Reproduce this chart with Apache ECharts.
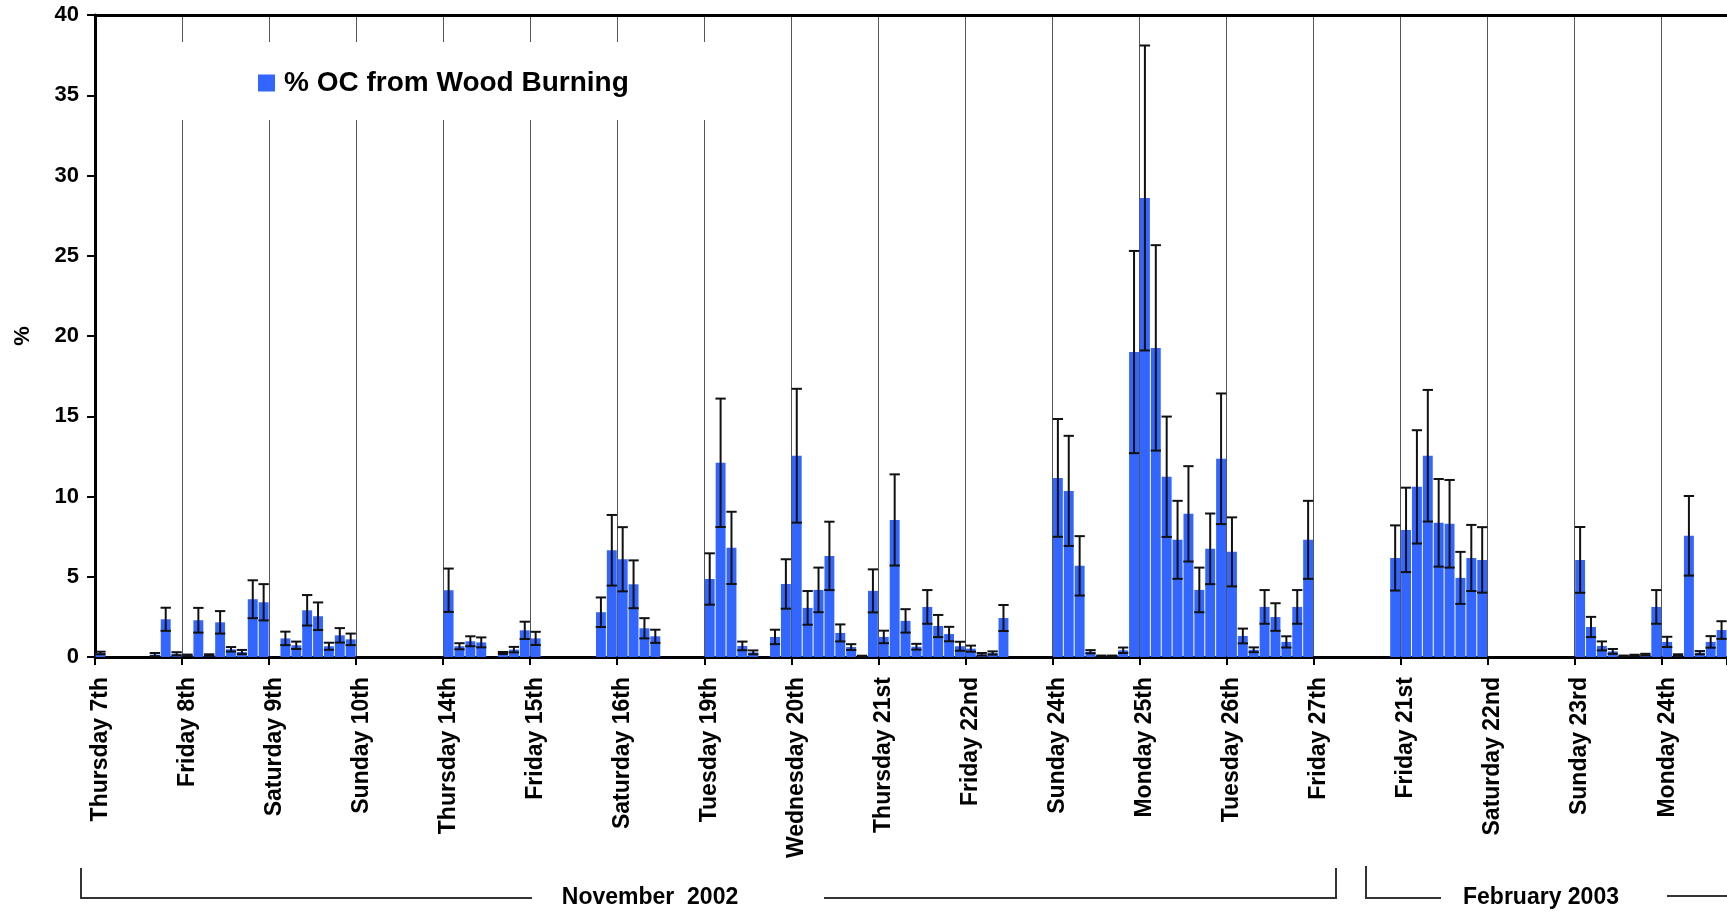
<!DOCTYPE html>
<html>
<head>
<meta charset="utf-8">
<script src="https://cdn.jsdelivr.net/npm/echarts@6/dist/echarts.min.js"></script>
<style>
  html, body { margin: 0; padding: 0; background: #fff; }
  #chart { width: 1727px; height: 913px; }
</style>
</head>
<body>
<div id="chart"></div>
<script>
// Day labels (one per day, 8 three-hour samples per day)
const dayLabels = ['Thursday 7th','Friday 8th','Saturday 9th','Sunday 10th','Thursday 14th','Friday 15th',
  'Saturday 16th','Tuesday 19th','Wednesday 20th','Thursday 21st','Friday 22nd','Sunday 24th',
  'Monday 25th','Tuesday 26th','Friday 27th','Friday 21st','Saturday 22nd','Sunday 23rd','Monday 24th'];
const slotsPerDay = 8;
const slotCount = 150;

// % OC from wood burning, one row per day (null = no sample)
const values = [
  0.25, null, null, null, null, 0.15, 2.35, 0.2,
  0.1, 2.29, 0.12, 2.16, 0.48, 0.31, 3.6, 3.41,
  null, 1.16, 0.73, 2.91, 2.54, 0.67, 1.35, 1.1,
  null, null, null, null, null, null, null, null,
  4.16, 0.67, 0.98, 0.91, null, 0.25, 0.46, 1.66,
  1.16, null, null, null, null, null, 2.79, 6.65,
  6.09, 4.53, 1.79, 1.29, null, null, null, null,
  4.86, 12.1, 6.8, 0.69, 0.29, null, 1.25, 4.55,
  12.54, 3.06, 4.18, 6.3, 1.5, 0.62, 0.05, 4.12,
  1.25, 8.54, 2.25, 0.64, 3.12, 1.93, 1.43, 0.67,
  0.52, 0.17, 0.25, 2.43, null, null, null, null,
  11.16, 10.35, 5.68, 0.33, 0.06, 0.06, 0.42, 19.0,
  28.6, 19.26, 11.23, 7.3, 8.92, 4.18, 6.74, 12.35,
  6.55, 1.31, 0.45, 3.12, 2.49, 0.94, 3.12, 7.3,
  null, null, null, null, null, null, null, 6.17,
  7.92, 10.6, 12.54, 8.36, 8.3, 4.93, 6.17, 6.05,
  null, null, null, null, null, null, null, null,
  6.05, 1.87, 0.69, 0.35, 0.06, 0.1, 0.15, 3.12,
  0.94, 0.12, 7.55, 0.27, 0.94, 1.68
];
// error (+/-) for each sample
const errors = [
  0.08, null, null, null, null, 0.1, 0.72, 0.1,
  0.05, 0.77, 0.05, 0.7, 0.14, 0.13, 1.18, 1.13,
  null, 0.42, 0.23, 0.95, 0.86, 0.22, 0.45, 0.36,
  null, null, null, null, null, null, null, null,
  1.35, 0.19, 0.31, 0.31, null, 0.06, 0.17, 0.54,
  0.41, null, null, null, null, null, 0.92, 2.2,
  2.0, 1.49, 0.63, 0.41, null, null, null, null,
  1.6, 4.0, 2.25, 0.27, 0.12, null, 0.45, 1.54,
  4.17, 1.05, 1.39, 2.13, 0.53, 0.18, 0.03, 1.34,
  0.39, 2.84, 0.73, 0.18, 1.05, 0.69, 0.45, 0.28,
  0.19, 0.08, 0.1, 0.81, null, null, null, null,
  3.67, 3.43, 1.85, 0.1, 0.03, 0.03, 0.17, 6.3,
  9.5, 6.4, 3.75, 2.43, 2.97, 1.39, 2.2, 4.07,
  2.15, 0.46, 0.15, 1.05, 0.86, 0.35, 1.05, 2.43,
  null, null, null, null, null, null, null, 2.03,
  2.63, 3.53, 4.1, 2.73, 2.73, 1.62, 2.06, 2.04,
  null, null, null, null, null, null, null, null,
  2.05, 0.63, 0.28, 0.15, 0.03, 0.04, 0.05, 1.05,
  0.32, 0.05, 2.48, 0.1, 0.36, 0.55
];
const yTicks = { min: 0, max: 40, interval: 5 };
const seriesName = '% OC from Wood Burning';
const monthLabels = ['November  2002', 'February 2003'];

const categories = [];
for (let i = 0; i < slotCount; i++) {
  categories.push(dayLabels[Math.floor(i / slotsPerDay)] + '|' + (i % slotsPerDay));
}
const errData = [];
values.forEach((v, i) => {
  if (v != null && errors[i] != null) errData.push([i, v, errors[i]]);
});

const FONT = "'Liberation Sans', Arial, Helvetica, sans-serif";
const BLUE = '#3366FF';
const dayStart = (idx) => idx % slotsPerDay === 0;

const chart = echarts.init(document.getElementById('chart'), null, { renderer: 'canvas' });
chart.setOption({
  animation: false,
  backgroundColor: '#fff',
  grid: { left: 95, right: 0, top: 15, bottom: 256, containLabel: false },
  legend: {
    data: [{ name: seriesName, icon: 'rect' }],
    left: 170, top: 42,
    padding: [27, 88, 23, 88],
    backgroundColor: '#fff',
    itemWidth: 17, itemHeight: 17,
    textStyle: { fontFamily: FONT, fontWeight: 'bold', fontSize: 28, color: '#000', padding: [0, 0, 0, 4] }
  },
  xAxis: [{
    type: 'category',
    data: categories,
    boundaryGap: true,
    axisLine: { show: true, lineStyle: { color: '#000', width: 3 } },
    axisTick: { show: true, interval: (i) => dayStart(i), length: 8, lineStyle: { color: '#000', width: 2 } },
    axisLabel: {
      interval: (i) => dayStart(i),
      rotate: 90, margin: 20,
      fontFamily: FONT, fontWeight: 'bold', fontSize: 23, color: '#000',
      formatter: (v) => v.split('|')[0]
    },
    splitLine: { show: true, interval: (i) => dayStart(i), lineStyle: { color: '#555', width: 1 } }
  }, {
    type: 'category',
    data: categories,
    position: 'top',
    axisLine: { show: true, lineStyle: { color: '#000', width: 3 } },
    axisTick: { show: false }, axisLabel: { show: false }, splitLine: { show: false }
  }],
  yAxis: {
    type: 'value',
    min: yTicks.min, max: yTicks.max, interval: yTicks.interval,
    name: '%', nameLocation: 'middle', nameGap: 61, nameRotate: 90,
    nameTextStyle: { fontFamily: FONT, fontWeight: 'bold', fontSize: 22, color: '#000' },
    axisLine: { show: true, lineStyle: { color: '#000', width: 3 } },
    axisTick: { show: true, length: 8, lineStyle: { color: '#000', width: 2 } },
    axisLabel: { fontFamily: FONT, fontWeight: 'bold', fontSize: 22, color: '#000', margin: 16 },
    splitLine: { show: false }
  },
  series: [{
    name: seriesName,
    type: 'bar',
    data: values.map(v => v == null ? '-' : v),
    barCategoryGap: '9%',
    itemStyle: { color: BLUE },
    z: 2
  }, {
    type: 'custom',
    name: 'err',
    data: errData,
    encode: { x: 0, y: 1 },
    z: 3,
    renderItem: function (params, api) {
      const idx = api.value(0), v = api.value(1), e = api.value(2);
      const top = api.coord([idx, v + e]);
      const bot = api.coord([idx, Math.max(0, v - e)]);
      const w = api.size([1, 0])[0] * 0.95;
      const st = { stroke: '#111', lineWidth: 2 };
      return {
        type: 'group',
        children: [
          { type: 'line', shape: { x1: top[0], y1: top[1], x2: bot[0], y2: bot[1] }, style: st },
          { type: 'line', shape: { x1: top[0] - w / 2, y1: top[1], x2: top[0] + w / 2, y2: top[1] }, style: st },
          { type: 'line', shape: { x1: bot[0] - w / 2, y1: bot[1], x2: bot[0] + w / 2, y2: bot[1] }, style: st }
        ]
      };
    }
  }],
  graphic: [
    { type: 'polyline', shape: { points: [[81, 868], [81, 898], [532, 898]] }, style: { stroke: '#333', lineWidth: 2, fill: null } },
    { type: 'polyline', shape: { points: [[824, 898], [1336, 898], [1336, 868]] }, style: { stroke: '#333', lineWidth: 2, fill: null } },
    { type: 'text', x: 650, y: 898, style: { text: monthLabels[0], font: "bold 23px 'Liberation Sans', Arial, sans-serif", fill: '#000', textAlign: 'center', textVerticalAlign: 'middle' } },
    { type: 'polyline', shape: { points: [[1366, 866], [1366, 898], [1441, 898]] }, style: { stroke: '#333', lineWidth: 2, fill: null } },
    { type: 'text', x: 1541, y: 898, style: { text: monthLabels[1], font: "bold 23px 'Liberation Sans', Arial, sans-serif", fill: '#000', textAlign: 'center', textVerticalAlign: 'middle' } },
    { type: 'polyline', shape: { points: [[1667, 896], [1727, 896]] }, style: { stroke: '#333', lineWidth: 2, fill: null } }
  ]
});
</script>
</body>
</html>
